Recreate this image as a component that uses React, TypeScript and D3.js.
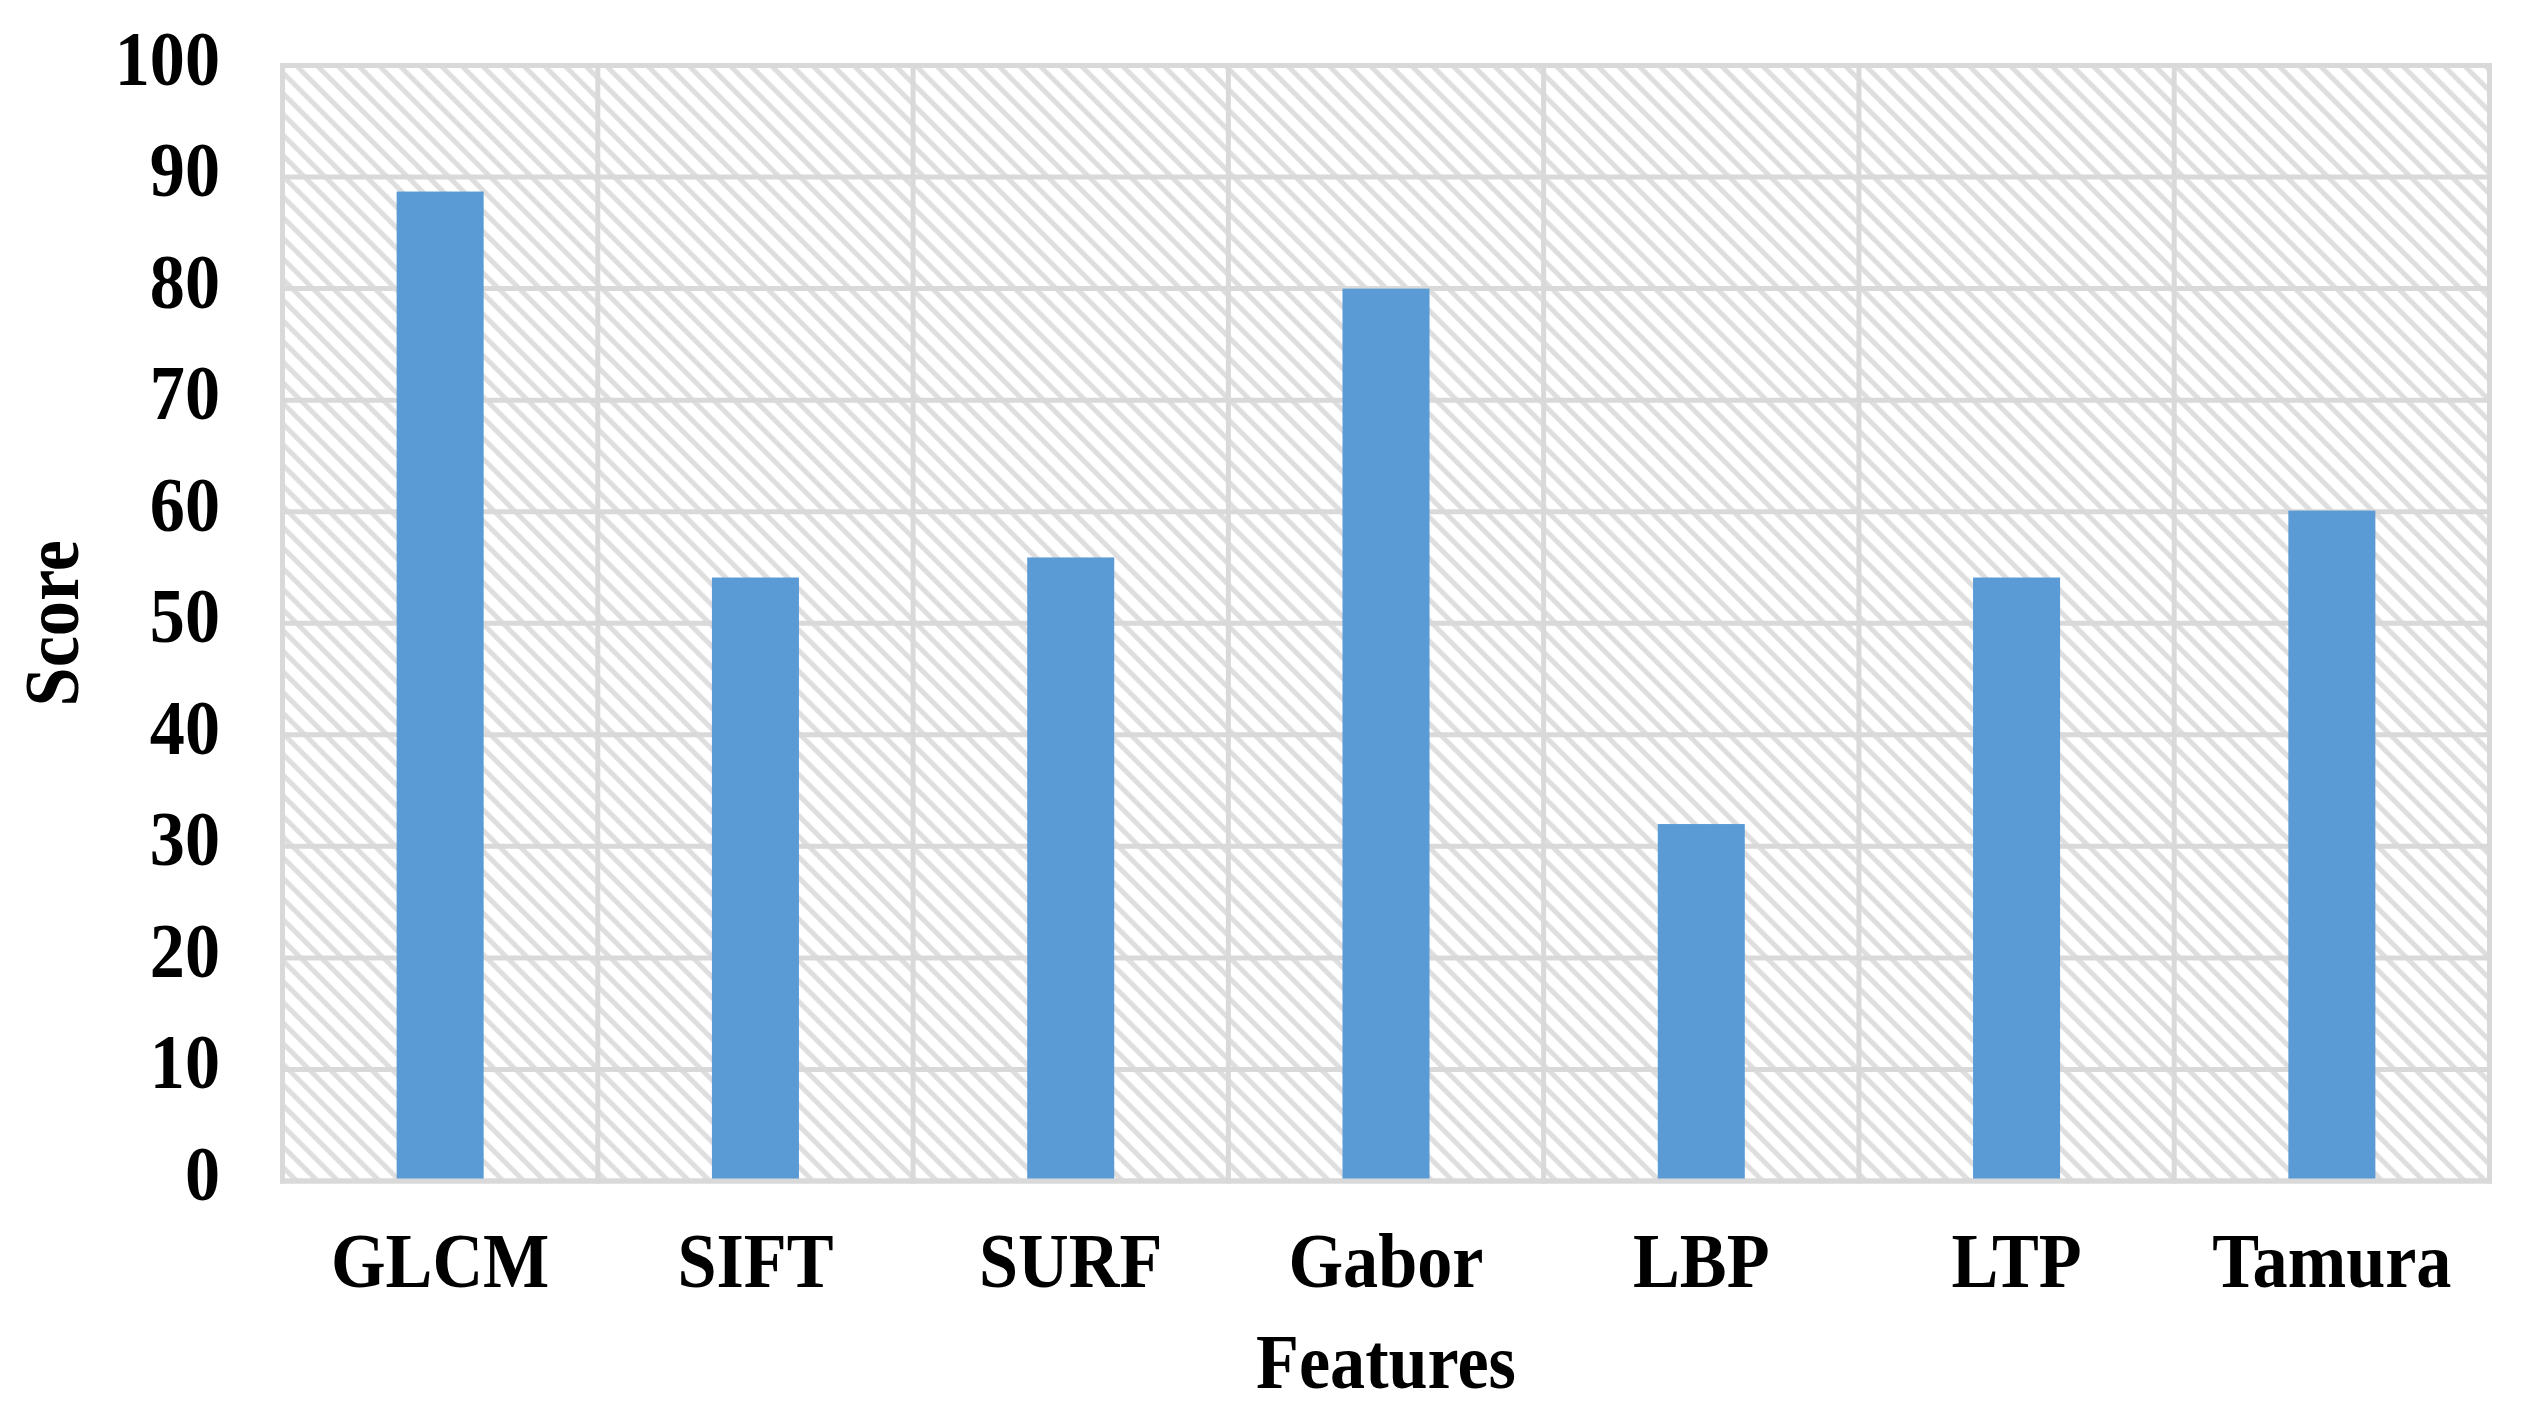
import React from "react";
import * as d3 from "d3";

const categories = ["GLCM", "SIFT", "SURF", "Gabor", "LBP", "LTP", "Tamura"];
const scores = [88.7, 54.1, 55.9, 80, 32, 54.1, 60.1];
const yTicks = [0, 10, 20, 30, 40, 50, 60, 70, 80, 90, 100];
const xTitle = "Features";
const yTitle = "Score";

const W = 2534;
const H = 1426;
const left = 282.5;
const right = 2489.5;
const top = 65.5;
const bottom = 1181;
const GRID = "#d9d9d9";
const BAR = "#5b9bd5";
const FONT = "'Liberation Serif', 'Times New Roman', serif";
const FS = 78;
const SX = 0.9;

export default function App() {
  const x = d3
    .scaleBand<string>()
    .domain(categories)
    .range([left, right])
    .paddingInner(0.724)
    .paddingOuter(0.362);
  const y = d3.scaleLinear().domain([0, 100]).range([bottom, top]);
  const step = x.step();
  const boundaries = d3.range(categories.length + 1).map((i) => left + i * step);

  return (
    <svg
      width={W}
      height={H}
      style={{ position: "absolute", left: 0, top: 0, background: "#fff" }}
    >
      <defs>
        <pattern
          id="hatch"
          patternUnits="userSpaceOnUse"
          width={14.6}
          height={14.6}
          patternTransform="rotate(-45)"
        >
          <rect width={14.6} height={14.6} fill="#fff" />
          <line x1={2.6} y1={0} x2={2.6} y2={14.6} stroke="#dedede" strokeWidth={5} />
        </pattern>
      </defs>
      <rect x={left} y={top} width={right - left} height={bottom - top} fill="url(#hatch)" />
      {yTicks.map((t) => (
        <line key={"h" + t} x1={left - 2.5} x2={right + 2.5} y1={y(t)} y2={y(t)} stroke={GRID} strokeWidth={5} />
      ))}
      {boundaries.map((bx, i) => (
        <line key={"v" + i} x1={bx} x2={bx} y1={top - 2.5} y2={bottom + 2.5} stroke={GRID} strokeWidth={5} />
      ))}
      {categories.map((c, i) => (
        <rect
          key={c}
          x={x(c)}
          width={x.bandwidth()}
          y={y(scores[i])}
          height={y(0) - y(scores[i])}
          fill={BAR}
        />
      ))}
      <line x1={left - 2.5} x2={right + 2.5} y1={y(0)} y2={y(0)} stroke={GRID} strokeWidth={5} />
      {yTicks.map((t) => (
        <text
          key={"t" + t}
          transform={`translate(220,${y(t) + 19}) scale(${SX},1)`}
          textAnchor="end"
          fontFamily={FONT}
          fontWeight="bold"
          fontSize={FS}
          fill="#000"
        >
          {t}
        </text>
      ))}
      {categories.map((c) => (
        <text
          key={"c" + c}
          transform={`translate(${(x(c) as number) + x.bandwidth() / 2},1287) scale(${SX},1)`}
          textAnchor="middle"
          fontFamily={FONT}
          fontWeight="bold"
          fontSize={FS}
          fill="#000"
        >
          {c}
        </text>
      ))}
      <text
        transform={`translate(${(left + right) / 2},1388) scale(${SX},1)`}
        textAnchor="middle"
        fontFamily={FONT}
        fontWeight="bold"
        fontSize={FS}
        fill="#000"
      >
        {xTitle}
      </text>
      <text
        transform={`translate(78,${(top + bottom) / 2}) rotate(-90) scale(${SX},1)`}
        textAnchor="middle"
        fontFamily={FONT}
        fontWeight="bold"
        fontSize={FS}
        fill="#000"
      >
        {yTitle}
      </text>
    </svg>
  );
}
